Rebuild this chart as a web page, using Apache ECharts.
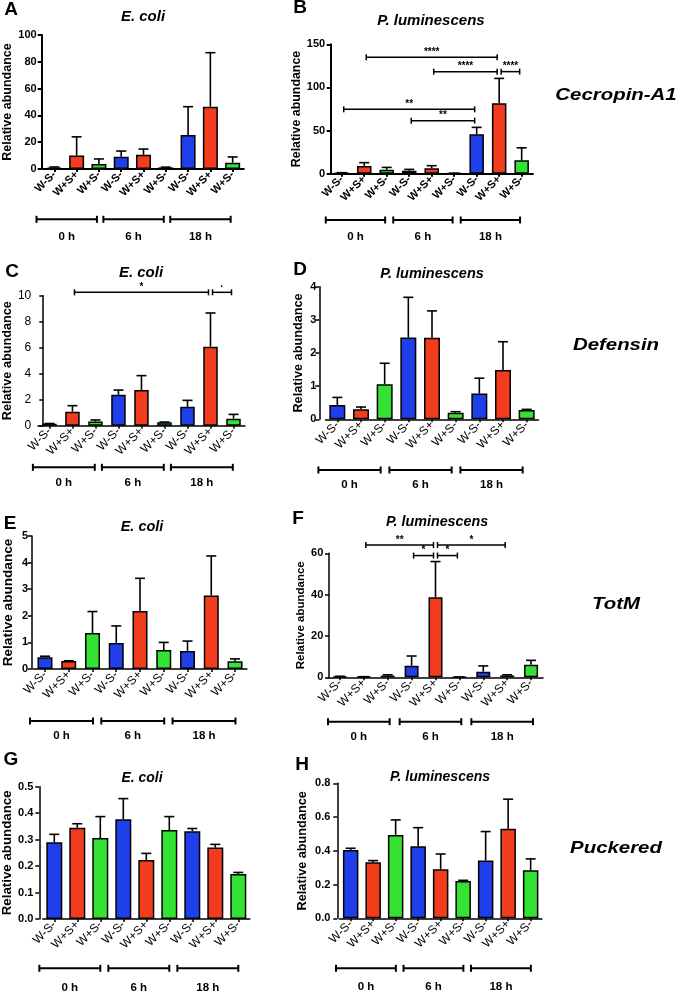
<!DOCTYPE html>
<html><head><meta charset="utf-8">
<script src="https://cdn.jsdelivr.net/npm/echarts@6/dist/echarts.min.js"></script>
<style>html,body{margin:0;padding:0;background:#fff}#c{width:679px;height:992px}</style>
</head><body><div id="c"></div>
<script>
// ---------- DATA ----------
const categories = ['W-S-','W+S+','W+S-','W-S-','W+S+','W+S-','W-S-','W+S+','W+S-'];
const groups = ['0 h','6 h','18 h'];
const groupSpans = [[0,2],[3,5],[6,8]];
const panelLetters = ['A','B','C','D','E','F','G','H'];
const panelTitles = ['E. coli','P. luminescens','E. coli','P. luminescens','E. coli','P. luminescens','E. coli','P. luminescens'];
const geneNames = ['Cecropin-A1','Defensin','TotM','Puckered'];
const yAxisName = 'Relative abundance';
const yMax  = [100, 150, 10, 4, 5, 60, 0.5, 0.8];
const yStep = [20, 50, 2, 1, 1, 20, 0.1, 0.2];

const meanA = [1.0, 10.0, 3.7, 9.2, 10.7, 1.2, 25.4, 46.5, 4.7];
const sdA   = [0.5, 14.0, 3.8, 4.2, 4.2, 0.2, 21.1, 40.3, 4.3];
const meanB = [0.8, 8.9, 4.6, 3.5, 6.2, 0.5, 45.6, 81.6, 15.5];
const sdB   = [0.4, 3.9, 2.7, 1.5, 3.1, 0.1, 8.1, 28.9, 14.5];
const meanC = [0.15, 1.08, 0.33, 2.38, 2.74, 0.26, 1.46, 6.08, 0.54];
const sdC   = [0.02, 0.46, 0.11, 0.36, 1.11, 0.02, 0.49, 2.59, 0.33];
const meanD = [0.43, 0.30, 1.06, 2.47, 2.46, 0.20, 0.78, 1.49, 0.28];
const sdD   = [0.23, 0.07, 0.63, 1.21, 0.81, 0.03, 0.46, 0.85, 0.02];
const meanE = [0.44, 0.30, 1.35, 0.98, 2.18, 0.71, 0.68, 2.76, 0.29];
const sdE   = [0.04, 0.01, 0.81, 0.64, 1.23, 0.29, 0.37, 1.49, 0.09];
const meanF = [0.3, 0.2, 0.8, 5.6, 38.7, 0.1, 2.7, 0.9, 6.1];
const sdF   = [0.2, 0.1, 0.4, 4.7, 17.3, 0.05, 2.8, 0.3, 2.1];
const meanG = [0.290, 0.345, 0.306, 0.377, 0.223, 0.336, 0.332, 0.270, 0.170];
const sdG   = [0.030, 0.015, 0.081, 0.078, 0.025, 0.051, 0.010, 0.012, 0.006];
const meanH = [0.405, 0.332, 0.494, 0.427, 0.290, 0.221, 0.342, 0.530, 0.285];
const sdH   = [0.010, 0.010, 0.089, 0.110, 0.091, 0.004, 0.172, 0.176, 0.067];

// significance brackets: [fromIndex, toIndex, yLevel, label]
const bracketsB = [[1,7,135,'****'],[4,7,118.3,'****'],[7,8,118.3,'****'],[0,6,74.6,'**'],[3,6,61.5,'**']];
const bracketsC = [[1,7,10.26,'*'],[7,8,10.26,'·']];
const bracketsF = [[1,4,64,'**'],[4,7,64,'*'],[3,4,58.9,'*'],[4,5,58.9,'*']];

// ---------- STYLE / LAYOUT ----------
const FONT = 'Liberation Sans, Arial, Helvetica, sans-serif';
const colorOf = c => c === 'W-S-' ? '#1f3fea' : (c === 'W+S+' ? '#f23c1e' : '#34e234');
const L = [
 {left:43.2, top:35,    w:200.6, h:134,   axisX:41.7,  barW:15,   lw:2,   tFs:11, tW:'bold',   xFs:11, xW:'bold',   nFs:12.5, nGap:25, lm:5,   gLo:-0.8,  gHi:-0.09, gOff:50.3, gLab:17.4, letter:[11,10],   title:[143,17],  tFsz:15,   gs:11.5},
 {left:330.5, top:44.3, w:202.4, h:129.4, axisX:330.7, barW:14.5, lw:2,   tFs:11, tW:'bold',   xFs:11, xW:'bold',   nFs:12.4, nGap:22, lm:5.5, gLo:-0.71, gHi:-0.07, gOff:46.3, gLab:16.7, letter:[300,8],   title:[431,21],  tFsz:15,   gs:11.5},
 {left:34, top:295.7,   w:211,   h:130,   axisX:39.3,  barW:14.5, lw:1.5, tFs:12, tW:'normal', xFs:12, xW:'normal', nFs:12.7, nGap:26, lm:12,  gLo:-0.72, gHi:-0.03, gOff:41.6, gLab:16,   letter:[12,272],  title:[141,273], tFsz:15,   gs:11.5},
 {left:325.5, top:286.7,w:213,   h:132.6, axisX:319.3, barW:16,   lw:1.5, tFs:11, tW:'bold',   xFs:12, xW:'normal', nFs:12.7, nGap:14, lm:3,   gLo:-0.8,  gHi:-0.17, gOff:50.7, gLab:15,   letter:[300,270], title:[432,274], tFsz:14.5, gs:11.5},
 {left:33.1, top:536,   w:213.8, h:133,   axisX:31.7,  barW:15,   lw:1.5, tFs:11, tW:'bold',   xFs:12, xW:'normal', nFs:13.6, nGap:16, lm:3.5, gLo:-0.63, gHi:0.02,  gOff:52,   gLab:15,   letter:[10,524],  title:[142,527], tFsz:14.5, gs:11.5},
 {left:328, top:553.3,  w:215,   h:124,   axisX:329,   barW:14,   lw:1.5, tFs:11, tW:'bold',   xFs:12, xW:'normal', nFs:11.5, nGap:21, lm:5.7, gLo:-0.5,  gHi:0.08,  gOff:44.4, gLab:15,   letter:[298,519], title:[437,522], tFsz:14.3, gs:11.5},
 {left:42.8, top:786.7, w:207,   h:132.3, axisX:39.3,  barW:16,   lw:1.5, tFs:11, tW:'bold',   xFs:12, xW:'normal', nFs:13.3, nGap:23, lm:6,   gLo:-0.65, gHi:0,     gOff:49.3, gLab:19.7, letter:[11,760],  title:[142,778], tFsz:14,   gs:11.5},
 {left:339.4, top:783.3,w:202.5, h:135,   axisX:337.3, barW:15.5, lw:1.5, tFs:11, tW:'bold',   xFs:12, xW:'normal', nFs:12.7, nGap:28, lm:7,   gLo:-0.65, gHi:0.01,  gOff:50,   gLab:18.4, letter:[302,765], title:[440,777], tFsz:14,   gs:11.5}
];
const geneY = [95, 345, 604, 848];
const geneX = 616;

const panels = [
 {mean:meanA, sd:sdA, br:null},
 {mean:meanB, sd:sdB, br:bracketsB},
 {mean:meanC, sd:sdC, br:bracketsC},
 {mean:meanD, sd:sdD, br:null},
 {mean:meanE, sd:sdE, br:null},
 {mean:meanF, sd:sdF, br:bracketsF},
 {mean:meanG, sd:sdG, br:null},
 {mean:meanH, sd:sdH, br:null}
];

const grid = [], xAxis = [], yAxis = [], series = [], graphic = [];
panels.forEach((p, i) => {
  const s = L[i];
  grid.push({left:s.left, top:s.top, width:s.w, height:s.h, containLabel:false});
  xAxis.push({
    gridIndex:i, type:'category', data:categories,
    axisLine:{show:true, onZero:false, lineStyle:{color:'#000', width:s.lw}},
    axisTick:{show:true, alignWithLabel:true, length:3, lineStyle:{color:'#000', width:s.lw}},
    axisLabel:{interval:0, rotate:45, margin:4, color:'#000', fontSize:s.xFs, fontWeight:s.xW, fontFamily:FONT},
    splitLine:{show:false}
  });
  yAxis.push({
    gridIndex:i, type:'value', min:0, max:yMax[i], interval:yStep[i],
    offset: s.left - s.axisX,
    axisLine:{show:true, lineStyle:{color:'#000', width:s.lw}},
    axisTick:{show:true, length:4, lineStyle:{color:'#000', width:s.lw}},
    axisLabel:{color:'#000', fontSize:s.tFs, fontWeight:s.tW, fontFamily:FONT, margin:s.lm,
      formatter: v => yStep[i] < 1 ? v.toFixed(1) : String(v)},
    splitLine:{show:false},
    name:yAxisName, nameLocation:'middle', nameGap:s.nGap, nameRotate:90,
    nameTextStyle:{color:'#000', fontSize:s.nFs, fontWeight:'bold', fontFamily:FONT}
  });
  series.push({
    type:'bar', xAxisIndex:i, yAxisIndex:i, barWidth:s.barW, z:3,
    data:p.mean.map((v, j) => ({value:v, itemStyle:{color:colorOf(categories[j])}})),
    itemStyle:{borderColor:'#000', borderWidth:1.5}
  });
  series.push({
    type:'custom', xAxisIndex:i, yAxisIndex:i, z:2, clip:false, silent:true,
    data:p.mean.map((m, j) => [j, m, m + p.sd[j]]),
    encode:{x:0, y:[1,2]},
    renderItem:(params, api) => {
      const x = api.value(0);
      const lo = api.coord([x, api.value(1)]);
      const hi = api.coord([x, api.value(2)]);
      const cw = 5;
      return {type:'group', children:[
        {type:'line', shape:{x1:lo[0], y1:lo[1], x2:hi[0], y2:hi[1]}, style:{stroke:'#000', lineWidth:1.6}},
        {type:'line', shape:{x1:hi[0]-cw, y1:hi[1], x2:hi[0]+cw, y2:hi[1]}, style:{stroke:'#000', lineWidth:1.6}}
      ]};
    }
  });
  series.push({
    type:'custom', xAxisIndex:i, yAxisIndex:i, clip:false, silent:true,
    data:groupSpans.map(g => [g[0], g[1], 0]),
    encode:{x:[0,1], y:2},
    renderItem:(params, api) => {
      const a = api.coord([api.value(0), 0]);
      const b = api.coord([api.value(1), 0]);
      const w = api.size([1, 0])[0];
      const y = a[1] + s.gOff;
      const x0 = a[0] + s.gLo * w, x1 = b[0] + s.gHi * w;
      const st = {stroke:'#000', lineWidth:2};
      return {type:'group', children:[
        {type:'line', shape:{x1:x0, y1:y, x2:x1, y2:y}, style:st},
        {type:'line', shape:{x1:x0, y1:y-3.5, x2:x0, y2:y+3.5}, style:st},
        {type:'line', shape:{x1:x1, y1:y-3.5, x2:x1, y2:y+3.5}, style:st},
        {type:'text', style:{text:groups[params.dataIndex], x:(x0+x1)/2, y:y+s.gLab,
          align:'center', verticalAlign:'middle', textAlign:'center', textVerticalAlign:'middle',
          font:'bold ' + s.gs + 'px ' + FONT, fill:'#000'}}
      ]};
    }
  });
  if (p.br) {
    series.push({
      type:'custom', xAxisIndex:i, yAxisIndex:i, clip:false, silent:true, z:5,
      data:p.br.map(b => [b[0], b[1], b[2]]),
      encode:{x:[0,1], y:2},
      renderItem:(params, api) => {
        const a = api.coord([api.value(0), api.value(2)]);
        const b = api.coord([api.value(1), api.value(2)]);
        const x0 = a[0] + 2, x1 = b[0] - 2, y = a[1];
        const st = {stroke:'#000', lineWidth:1.5};
        return {type:'group', children:[
          {type:'line', shape:{x1:x0, y1:y, x2:x1, y2:y}, style:st},
          {type:'line', shape:{x1:x0, y1:y-3, x2:x0, y2:y+3}, style:st},
          {type:'line', shape:{x1:x1, y1:y-3, x2:x1, y2:y+3}, style:st},
          {type:'text', style:{text:p.br[params.dataIndex][3], x:(x0+x1)/2, y:y-5,
            align:'center', verticalAlign:'middle', textAlign:'center', textVerticalAlign:'middle',
            font:'bold 10px ' + FONT, fill:'#000'}}
        ]};
      }
    });
  }
  graphic.push({type:'text', x:s.letter[0], y:s.letter[1],
    style:{text:panelLetters[i], align:'center', verticalAlign:'middle', textAlign:'center', textVerticalAlign:'middle',
      font:'bold 19px ' + FONT, fill:'#000'}});
  graphic.push({type:'text', x:s.title[0], y:s.title[1],
    style:{text:panelTitles[i], align:'center', verticalAlign:'middle', textAlign:'center', textVerticalAlign:'middle',
      font:'italic bold ' + s.tFsz + 'px ' + FONT, fill:'#000'}});
});
geneNames.forEach((g, k) => {
  graphic.push({type:'text', x:geneX, y:geneY[k], scaleX:1.2,
    style:{text:g, align:'center', verticalAlign:'middle', textAlign:'center', textVerticalAlign:'middle',
      font:'italic bold 17px ' + FONT, fill:'#000'}});
});

const chart = echarts.init(document.getElementById('c'), null, {renderer:'canvas'});
chart.setOption({animation:false, backgroundColor:'#fff', grid, xAxis, yAxis, series, graphic});
</script></body></html>
